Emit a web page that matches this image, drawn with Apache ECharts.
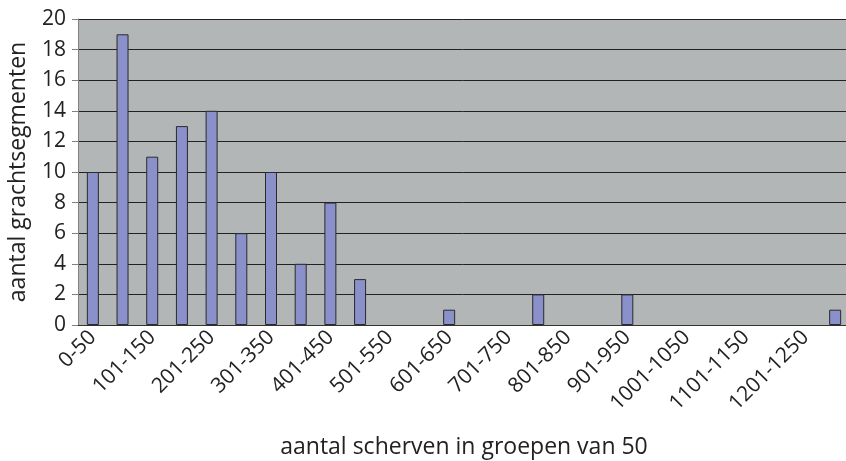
<!DOCTYPE html>
<html><head><meta charset="utf-8">
<script src="https://cdn.jsdelivr.net/npm/echarts@6/dist/echarts.min.js"></script>
<style>html,body{margin:0;padding:0;background:#fff}#c{width:846px;height:461px}</style>
</head><body><div id="c"></div>
<script>
const categories = ["0-50","51-100","101-150","151-200","201-250","251-300","301-350","351-400","401-450","451-500","501-550","551-600","601-650","651-700","701-750","751-800","801-850","851-900","901-950","951-1000","1001-1050","1051-1100","1101-1150","1151-1200","1201-1250","1251-1300"];
const counts = [10,19,11,13,14,6,10,4,8,3,0,0,1,0,0,2,0,0,2,0,0,0,0,0,0,1];
const yTicks = {min:0, max:20, interval:2};
const xTitle = "aantal scherven in groepen van 50";
const yTitle = "aantal grachtsegmenten";
const FONT = "'Open Sans', 'Noto Sans', sans-serif";

const chart = echarts.init(document.getElementById('c'), null, {renderer:'canvas'});
chart.setOption({
  animation:false,
  grid:{left:78, top:19, width:772, height:306, show:true, backgroundColor:'#B3B6B7', borderWidth:0,
        containLabel:false, outerBoundsMode:'none'},
  xAxis:{
    type:'category', data:categories,
    name:xTitle, nameLocation:'middle', nameGap:111,
    nameTextStyle:{fontFamily:FONT, fontSize:23, color:'#222'},
    axisLine:{lineStyle:{color:'#333', width:1}},
    axisTick:{interval:0, length:6, lineStyle:{color:'#555'}},
    axisLabel:{interval:1, rotate:45, fontFamily:FONT, fontSize:21, color:'#222', margin:9}
  },
  yAxis:{
    type:'value', min:yTicks.min, max:yTicks.max, interval:yTicks.interval,
    name:yTitle, nameLocation:'middle', nameGap:48,
    nameTextStyle:{fontFamily:FONT, fontSize:23, color:'#222'},
    axisLine:{show:true, lineStyle:{color:'#808080'}},
    axisTick:{show:true, length:6, lineStyle:{color:'#808080'}},
    axisLabel:{fontFamily:FONT, fontSize:21, color:'#222', margin:12},
    splitLine:{lineStyle:{color:'#222', width:1}}
  },
  series:[{
    type:'bar', data:counts.map(v => v === 0 ? null : v), barWidth:12,
    itemStyle:{color:'#8A90C9', borderColor:'#2a2a2a', borderWidth:1}
  }]
});
</script></body></html>
